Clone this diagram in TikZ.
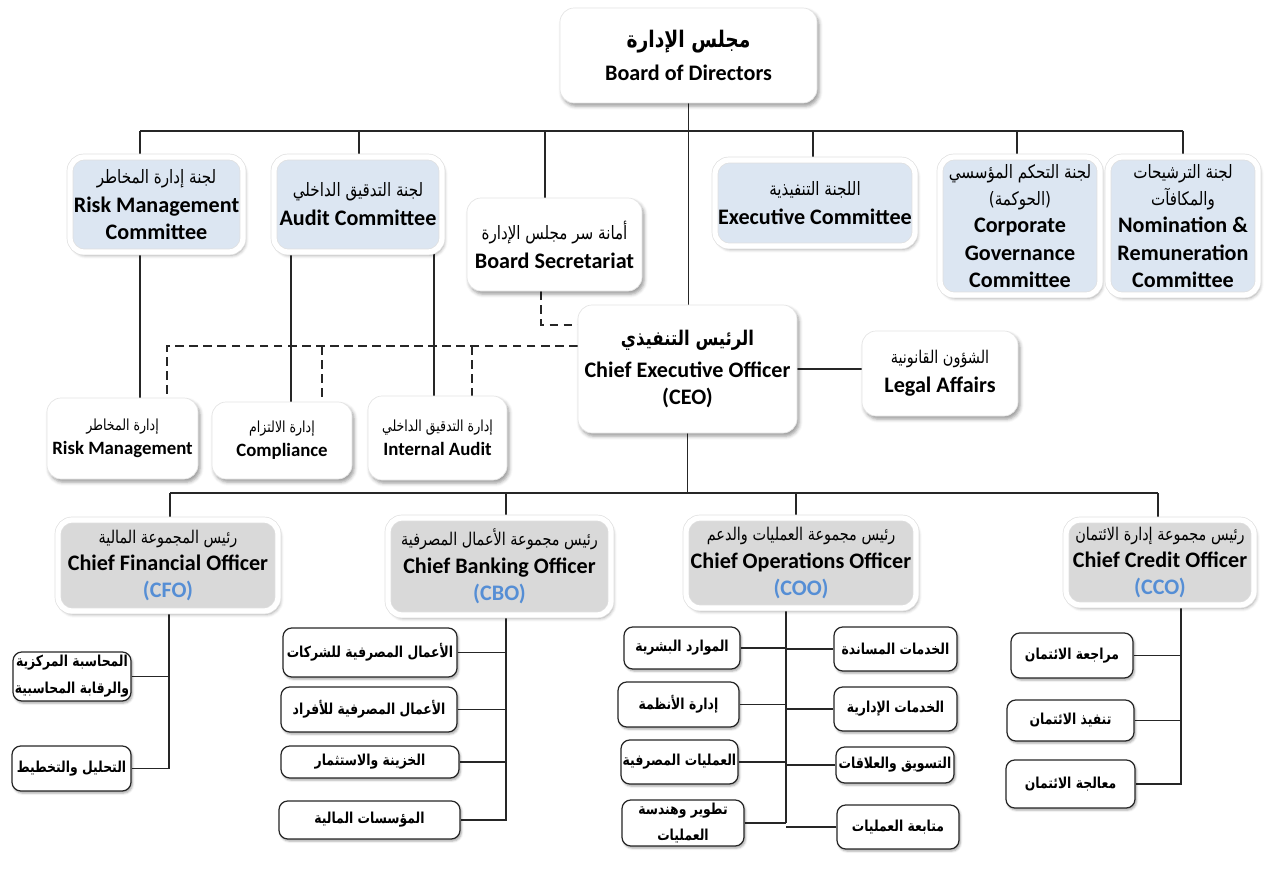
\documentclass[tikz,border=0pt]{standalone}
\usepackage{fontspec}
\setmainfont{Carlito}
\newfontfamily\arabicfont[Script=Arabic,FakeStretch=0.82]{DejaVu Sans}
\TeXXeTstate=1
\usetikzlibrary{shadows.blur,backgrounds}
\definecolor{commblue}{HTML}{DCE6F2}
\definecolor{chiefgray}{HTML}{D9D9D9}
\definecolor{abbrblue}{HTML}{558ED5}
\newcommand\ar[2][10.5]{{\fontsize{#1}{#1}\arabicfont\mdseries\beginR #2\endR}}
\newcommand\arb[2][8.6]{{\fontsize{#1}{#1}\arabicfont\bfseries\beginR #2\endR}}
\tikzset{
  >=latex,
  sz/.style 2 args={minimum width=#1*0.02cm, minimum height=#2*0.02cm},
}
\tikzstyle{every node}=[font=\fontsize{12.6}{15.5}\selectfont\bfseries]
\tikzstyle{topbox}=[rounded corners=8pt, fill=white, draw=black!10, align=center, inner sep=0pt,
  blur shadow={shadow xshift=1.2pt, shadow yshift=-1.8pt, shadow blur radius=2pt, shadow opacity=40}]
\tikzstyle{commbox}=[topbox, fill=commblue, draw=black!12, double=white, double distance=3pt]
\tikzstyle{chiefbox}=[commbox, fill=chiefgray]
\tikzstyle{deptbox}=[topbox, font=\fontsize{10.7}{13.6}\selectfont\bfseries]
\tikzstyle{unitbox}=[rounded corners=5pt, fill=white, draw=black!85, line width=.7pt, align=center, inner sep=0pt,
  font=\fontsize{10}{15.3}\selectfont,
  blur shadow={shadow xshift=.8pt, shadow yshift=-1.2pt, shadow blur radius=1.2pt, shadow opacity=35}]
\tikzstyle{link}=[line width=.8pt, black!85]
\tikzstyle{dashlink}=[link, dash pattern=on 5pt off 3pt]

\begin{document}
\begin{tikzpicture}[x=0.02cm,y=-0.02cm]
  \useasboundingbox (0,0) rectangle (1282,882);
  \node[topbox, sz={257}{95}] (board) at (688.5,55.5) {\arb[13]{مجلس الإدارة}\\[3pt]Board of Directors};

  \node[commbox, sz={173}{95}] (rmc) at (156.5,204.5) {\ar{لجنة إدارة المخاطر}\\[1pt]Risk Management\\Committee};
  \node[commbox, sz={168}{95}] (ac) at (358,204.5) {\ar{لجنة التدقيق الداخلي}\\[1pt]Audit Committee};
  \node[topbox, sz={175}{93}] (bs) at (554.5,244.5) {\ar{أمانة سر مجلس الإدارة}\\[1pt]Board Secretariat};
  \node[commbox, sz={200}{86}] (ec) at (815,203) {\ar{اللجنة التنفيذية}\\[1pt]Executive Committee};
  \node[commbox, sz={160}{138}] (cgc) at (1020,226) {\ar{لجنة التحكم المؤسسي}\\\ar{(الحوكمة)}\\Corporate\\Governance\\Committee};
  \node[commbox, sz={150}{138}] (nrc) at (1183,226) {\ar{لجنة الترشيحات}\\\ar{والمكافآت}\\Nomination \&\\Remuneration\\Committee};

  \node[topbox, sz={219}{128}] (ceo) at (687.5,369) {\arb[11.5]{الرئيس التنفيذي}\\[3pt]Chief Executive Officer\\(CEO)};
  \node[topbox, sz={156}{85}] (legal) at (940,373.5) {\ar[10]{الشؤون القانونية}\\[1pt]Legal Affairs};

  \node[deptbox, sz={151}{81}] (rm) at (122.5,438.5) {\ar[8.7]{إدارة المخاطر}\\Risk Management};
  \node[deptbox, sz={140}{77}] (comp) at (282,440.5) {\ar[8.7]{إدارة الالتزام}\\Compliance};
  \node[deptbox, sz={139}{84}] (ia) at (437.5,438) {\ar[8.7]{إدارة التدقيق الداخلي}\\Internal Audit};

  \node[chiefbox, sz={220}{91}] (cfo) at (168,565.5) {\ar[10]{رئيس المجموعة المالية}\\Chief Financial Officer\\{\color{abbrblue}(CFO)}};
  \node[chiefbox, sz={223}{97}] (cbo) at (499.5,566.5) {\ar[10]{رئيس مجموعة الأعمال المصرفية}\\Chief Banking Officer\\{\color{abbrblue}(CBO)}};
  \node[chiefbox, sz={230}{90}] (coo) at (801,563) {\ar[10]{رئيس مجموعة العمليات والدعم}\\Chief Operations Officer\\{\color{abbrblue}(COO)}};
  \node[chiefbox, sz={188}{85}] (cco) at (1160,562.5) {\ar[10]{رئيس مجموعة إدارة الائتمان}\\Chief Credit Officer\\{\color{abbrblue}(CCO)}};

  \node[unitbox, sz={118}{49}] (fa1) at (72,676.5) {\arb{المحاسبة المركزية}\\\arb{والرقابة المحاسبية}};
  \node[unitbox, sz={119}{45}] (fa2) at (71.5,768.5) {\arb{التحليل والتخطيط}};

  \node[unitbox, sz={174}{49}] (cb1) at (370,652.5) {\arb{الأعمال المصرفية للشركات}};
  \node[unitbox, sz={176}{45}] (cb2) at (369,709.5) {\arb{الأعمال المصرفية للأفراد}};
  \node[unitbox, sz={178}{32}] (cb3) at (370,762) {\arb{الخزينة والاستثمار}};
  \node[unitbox, sz={181}{38}] (cb4) at (369.5,820) {\arb{المؤسسات المالية}};

  \node[unitbox, sz={116}{42}] (co1) at (682,648) {\arb{الموارد البشرية}};
  \node[unitbox, sz={121}{45}] (co2) at (678.5,704.5) {\arb{إدارة الأنظمة}};
  \node[unitbox, sz={117}{44}] (co3) at (679.5,762) {\arb{العمليات المصرفية}};
  \node[unitbox, sz={122}{46}] (co4) at (683,823) {\arb{تطوير وهندسة}\\\arb{العمليات}};
  \node[unitbox, sz={123}{44}] (co5) at (895.5,649) {\arb{الخدمات المساندة}};
  \node[unitbox, sz={123}{44}] (co6) at (895.5,709) {\arb{الخدمات الإدارية}};
  \node[unitbox, sz={118}{36}] (co7) at (895,765) {\arb{التسويق والعلاقات}};
  \node[unitbox, sz={122}{44}] (co8) at (898,827) {\arb{متابعة العمليات}};

  \node[unitbox, sz={122}{45}] (cc1) at (1072,655.5) {\arb{مراجعة الائتمان}};
  \node[unitbox, sz={127}{41}] (cc2) at (1070.5,720.5) {\arb{تنفيذ الائتمان}};
  \node[unitbox, sz={129}{48}] (cc3) at (1070.5,784) {\arb{معالجة الائتمان}};

  \begin{scope}[on background layer]
    \draw[link] (board.south) -- (board.south |- ceo.north);
    \draw[link] (140,131) -- (1183,131);
    \foreach \n/\x in {rmc/140,ac/359,bs/545,ec/813,cgc/1017,nrc/1183}
      \draw[link] (\x,131) -- (\n.north -| \x,0);
    \draw[link] (rmc.south -| 140,0) -- (rm.north -| 140,0);
    \draw[link] (ac.south -| 291,0) -- (comp.north -| 291,0);
    \draw[link] (ac.south -| 434,0) -- (ia.north -| 434,0);
    \draw[dashlink] (bs.south -| 541,0) |- (ceo.west |- 0,325);
    \draw[dashlink] (ceo.west |- 0,346) -| (rm.north -| 167,0);
    \draw[dashlink] (322,346) -- (comp.north -| 322,0);
    \draw[dashlink] (472,346) -- (ia.north -| 472,0);
    \draw[link] (ceo.east) -- (ceo.east -| legal.west);

    \draw[link] (ceo.south) -- (ceo.south |- 0,493);
    \draw[link] (170,493) -- (1158,493);
    \foreach \n/\x in {cfo/170,cbo/506,coo/796,cco/1158}
      \draw[link] (\x,493) -- (\n.north -| \x,0);

    \draw[link] (cfo.south -| 169,0) |- (fa2.east);
    \draw[link] (fa1.east) -- (fa1.east -| 169,0);
    \draw[link] (cbo.south -| 506,0) |- (cb4.east);
    \foreach \n in {cb1,cb2,cb3}
      \draw[link] (\n.east) -- (\n.east -| 506,0);
    \draw[link] (coo.south -| 786,0) -- (co4.east -| 786,0);
    \foreach \n in {co1,co2,co3,co4}
      \draw[link] (\n.east) -- (\n.east -| 786,0);
    \foreach \n in {co5,co6,co7,co8}
      \draw[link] (\n.west) -- (\n.west -| 786,0);
    \draw[link] (cco.south -| 1181,0) |- (cc3.east);
    \foreach \n in {cc1,cc2}
      \draw[link] (\n.east) -- (\n.east -| 1181,0);
  \end{scope}
\end{tikzpicture}
\end{document}
